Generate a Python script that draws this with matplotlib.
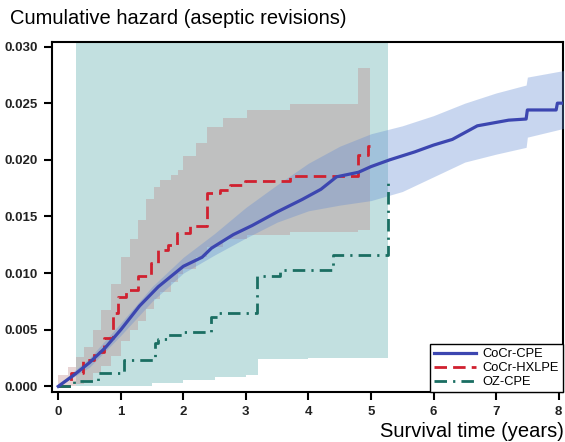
import matplotlib
matplotlib.use("Agg")
import matplotlib.pyplot as plt

plt.rcParams['font.family'] = ['Liberation Sans', 'DejaVu Sans']

# CoCr-CPE cumulative hazard with 95% CI
cpe_t = [0, 0.25, 0.5, 0.75, 1.0, 1.3, 1.6, 2.0, 2.3, 2.45, 2.8, 3.1, 3.5, 3.9,
         4.2, 4.45, 4.8, 5.0, 5.3, 5.7, 6.0, 6.3, 6.7, 7.0, 7.2, 7.48, 7.5, 7.96, 7.98, 8.1]
cpe_h = [0, 0.0010, 0.0021, 0.0034, 0.0050, 0.0071, 0.0088, 0.0106, 0.0114, 0.0122,
         0.0134, 0.0142, 0.0154, 0.0165, 0.0174, 0.0185, 0.0189, 0.0194, 0.0200, 0.0207,
         0.0213, 0.0218, 0.0230, 0.0233, 0.0235, 0.0236, 0.0244, 0.0244, 0.0250, 0.0250]
cpe_ci_t = [0, 0.5, 1.0, 1.5, 2.0, 2.5, 3.0, 3.5, 4.0, 4.5, 5.0, 5.5, 6.0, 6.5, 7.0,
            7.48, 7.5, 8.1]
cpe_lo = [0, 0.0017, 0.0045, 0.0075, 0.0100, 0.0116, 0.0131, 0.0145, 0.0155, 0.0160,
          0.0164, 0.0172, 0.0185, 0.0198, 0.0205, 0.0211, 0.0220, 0.0228]
cpe_hi = [0.0002, 0.0025, 0.0056, 0.0088, 0.0114, 0.0135, 0.0158, 0.0178, 0.0197, 0.0212,
          0.0223, 0.0230, 0.0239, 0.0250, 0.0259, 0.0266, 0.0273, 0.0279]

# CoCr-HXLPE
hx_t = [0, 0.2, 0.39, 0.57, 0.73, 0.87, 0.95, 1.08, 1.27, 1.48, 1.59, 1.75, 1.90,
        2.11, 2.38, 2.59, 2.75, 2.99, 3.71, 4.79, 4.95, 4.98]
hx_h = [0, 0.0012, 0.0023, 0.0030, 0.0043, 0.0065, 0.0079, 0.0085, 0.0097, 0.0109,
        0.0120, 0.0125, 0.0135, 0.0142, 0.0171, 0.0173, 0.0178, 0.0181, 0.0186, 0.0204,
        0.0212, 0.0212]
hx_ci_t = [0, 0.15, 0.28, 0.41, 0.55, 0.68, 0.85, 1.0, 1.15, 1.27, 1.4, 1.53, 1.63,
           1.8, 1.92, 2.0, 2.2, 2.38, 2.64, 3.02, 3.71, 4.79, 4.98]
hx_lo = [0, 0, 0.0002, 0.0006, 0.0012, 0.0018, 0.0027, 0.0040, 0.0050, 0.0058, 0.0068,
         0.0077, 0.0083, 0.0092, 0.0099, 0.0104, 0.0114, 0.0123, 0.0130, 0.0134, 0.0136,
         0.0138, 0.0138]
hx_hi = [0.0010, 0.0017, 0.0026, 0.0035, 0.0050, 0.0067, 0.0090, 0.0114, 0.0130, 0.0147,
         0.0165, 0.0176, 0.0182, 0.0187, 0.0191, 0.0203, 0.0215, 0.0229, 0.0237, 0.0244,
         0.0249, 0.0281, 0.0281]

# OZ-CPE
oz_t = [0, 0.25, 0.63, 1.05, 1.54, 1.6, 1.75, 2.0, 2.45, 2.55, 3.18, 3.55, 4.4, 5.27]
oz_h = [0, 0.0005, 0.0012, 0.0023, 0.0038, 0.0042, 0.0045, 0.0048, 0.0061, 0.0065,
        0.0097, 0.0103, 0.0116, 0.0182]
oz_ci_t = [0.28, 1.5, 2.0, 2.5, 3.0, 3.2, 4.0, 5.27]
oz_lo = [0, 0.0003, 0.0006, 0.0008, 0.0010, 0.0024, 0.0025, 0.0026]
oz_hi = [0.04, 0.04, 0.04, 0.04, 0.04, 0.04, 0.04, 0.04]

fig = plt.figure(figsize=(5.65, 4.42), dpi=100)
ax = fig.add_axes([0.092, 0.113, 0.9045, 0.792])

# confidence bands
ax.fill_between(oz_ci_t, oz_lo, oz_hi, step='post', color='#c2e0e0', lw=0, zorder=1)
ax.fill_between(hx_ci_t, hx_lo, hx_hi, step='post', color='#bc8585', alpha=0.35, lw=0, zorder=2)
ax.fill_between(cpe_ci_t, cpe_lo, cpe_hi, color='#648cd2', alpha=0.35, lw=0, zorder=3)

# curves
ax.plot(cpe_t, cpe_h, color='#3c46b0', lw=2.3, label='CoCr-CPE', zorder=6)
ax.plot(hx_t, hx_h, color='#d0202f', lw=2.0, drawstyle='steps-post',
        dashes=(4.5, 2.2), label='CoCr-HXLPE', zorder=5)
ax.plot(oz_t, oz_h, color='#1a6e62', lw=2.0, drawstyle='steps-post',
        dashes=(4.5, 2.2, 0.8, 2.2), label='OZ-CPE', zorder=5)

ax.set_xlim(-0.1, 8.07)
ax.set_ylim(-0.0005, 0.0304)
ax.set_xticks(range(0, 9))
ax.set_yticks([0, 0.005, 0.010, 0.015, 0.020, 0.025, 0.030])
ax.set_yticklabels(['%.3f' % v for v in ax.get_yticks()])
ax.tick_params(direction='out', length=6, width=1.5, labelsize=9.5, pad=4)
for lab in ax.get_xticklabels() + ax.get_yticklabels():
    lab.set_fontweight('bold')
    lab.set_color('#222222')
for sp in ax.spines.values():
    sp.set_linewidth(1.5)

leg = ax.legend(loc='lower right', borderaxespad=0, fontsize=9.3, handlelength=3.3,
                labelspacing=0.15, borderpad=0.3, handletextpad=0.5,
                fancybox=False, framealpha=1, edgecolor='black')
leg.get_frame().set_linewidth(1.0)

fig.text(0.018, 0.959, 'Cumulative hazard (aseptic revisions)', fontsize=14.5, va='center')
fig.text(0.998, 0.023, 'Survival time (years)', fontsize=14.5, va='center', ha='right')

fig.savefig('out.png', dpi=100)
